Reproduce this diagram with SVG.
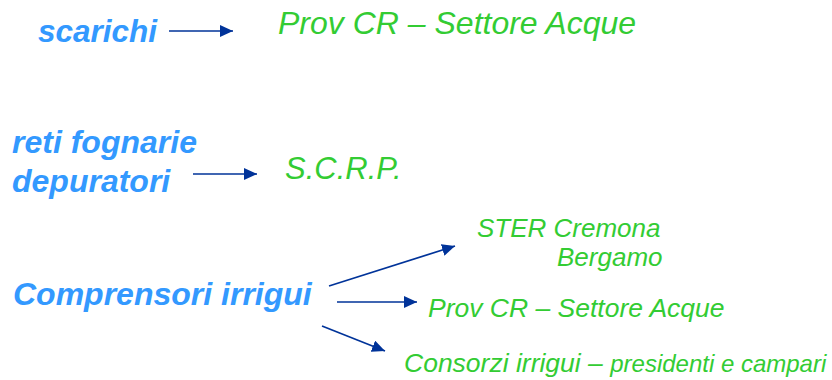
<svg xmlns="http://www.w3.org/2000/svg" width="832" height="380" viewBox="0 0 832 380">
<defs>
<marker id="ah" markerUnits="userSpaceOnUse" markerWidth="14" markerHeight="12" refX="13" refY="6" orient="auto">
<path d="M0,0 L13,6 L0,12 z" fill="#003399"/>
</marker>
<style>
.src{font-family:"Liberation Sans",Arial,sans-serif;font-weight:bold;font-style:italic;fill:#3399FF;}
.dst{font-family:"Liberation Sans",Arial,sans-serif;font-style:italic;fill:#33CC33;}
.arr{stroke:#003399;stroke-width:1.7;fill:none;marker-end:url(#ah);}
</style>
</defs>
<rect width="832" height="380" fill="#ffffff"/>
<g id="n-scarichi"><text class="src" x="38" y="42" font-size="31.5">scarichi</text></g>
<g id="n-provcr1"><text class="dst" x="278" y="34" font-size="32">Prov CR – Settore Acque</text></g>
<g id="n-reti"><text class="src" x="12" y="153" font-size="32">reti fognarie</text><text class="src" x="12" y="192" font-size="32">depuratori</text></g>
<g id="n-scrp"><text class="dst" x="285" y="179" font-size="31">S.C.R.P.</text></g>
<g id="n-compr"><text class="src" x="13" y="305" font-size="32">Comprensori irrigui</text></g>
<g id="n-ster"><text class="dst" x="477" y="237" font-size="26">STER Cremona</text><text class="dst" x="557" y="266" font-size="26">Bergamo</text></g>
<g id="n-provcr2"><text class="dst" x="428" y="317" font-size="26.5">Prov CR – Settore Acque</text></g>
<g id="n-consorzi"><text class="dst" x="404" y="372" font-size="26.5">Consorzi irrigui – <tspan font-size="24">presidenti e campari</tspan></text></g>
<g id="connectors">
<line class="arr" x1="169" y1="31" x2="233" y2="31"/>
<line class="arr" x1="193" y1="174" x2="257" y2="174"/>
<line class="arr" x1="329" y1="286" x2="455" y2="246"/>
<line class="arr" x1="337" y1="302" x2="417" y2="302"/>
<line class="arr" x1="322" y1="326" x2="385" y2="351"/>
</g>
</svg>
